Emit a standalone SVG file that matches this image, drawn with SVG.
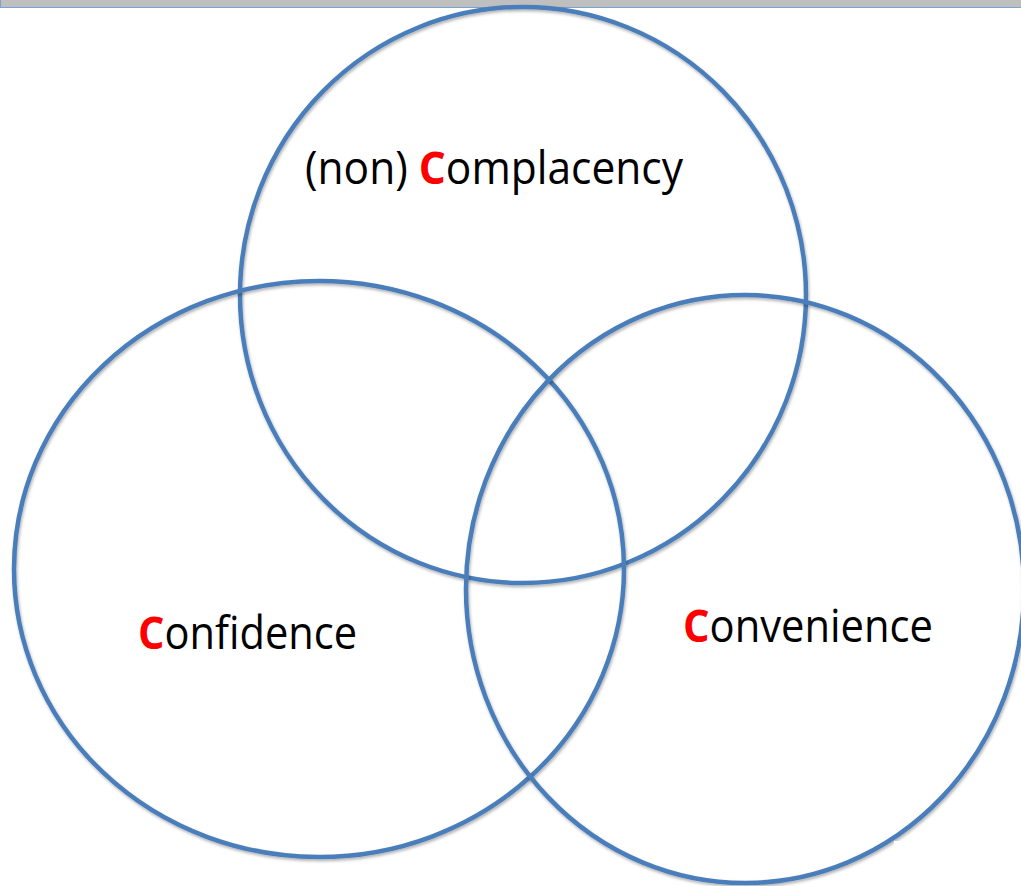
<svg xmlns="http://www.w3.org/2000/svg" width="1021" height="886" viewBox="0 0 1021 886">
<style>
.c{fill:none;stroke:#4a7ebb;stroke-width:4.5;filter:url(#sh)}
.t{font-family:"Open Sans","Liberation Sans",sans-serif;font-size:45px;fill:#000}
.r{fill:#ff0000;font-weight:bold}
</style>
<defs>
<filter id="sh" x="-10%" y="-10%" width="120%" height="120%">
<feDropShadow dx="1" dy="2" stdDeviation="1.5" flood-color="#000" flood-opacity="0.3"/>
</filter>
</defs>
<rect x="0" y="0" width="1021" height="886" fill="#fff"/>
<rect x="0" y="0" width="1021" height="7" fill="#bfbfbf"/>
<line x1="0" y1="7.5" x2="1021" y2="7.5" stroke="#7da1d0" stroke-width="1"/>
<line x1="0.5" y1="0" x2="0.5" y2="8" stroke="#7da1d0" stroke-width="1"/>
<g id="complacency">
<ellipse class="c" cx="523" cy="295" rx="283" ry="288"/>
<text class="t" x="305" y="184" textLength="378" lengthAdjust="spacingAndGlyphs">(non) <tspan class="r">C</tspan>omplacency</text>
</g>
<g id="confidence">
<ellipse class="c" cx="319" cy="569" rx="305" ry="288"/>
<text class="t" x="138" y="649" textLength="219" lengthAdjust="spacingAndGlyphs"><tspan class="r">C</tspan>onfidence</text>
</g>
<g id="convenience">
<ellipse class="c" cx="745" cy="589" rx="279" ry="294"/>
<text class="t" x="683" y="642" textLength="250" lengthAdjust="spacingAndGlyphs"><tspan class="r">C</tspan>onvenience</text>
</g>
<rect x="894" y="841" width="127" height="45" fill="#fff"/>
</svg>
